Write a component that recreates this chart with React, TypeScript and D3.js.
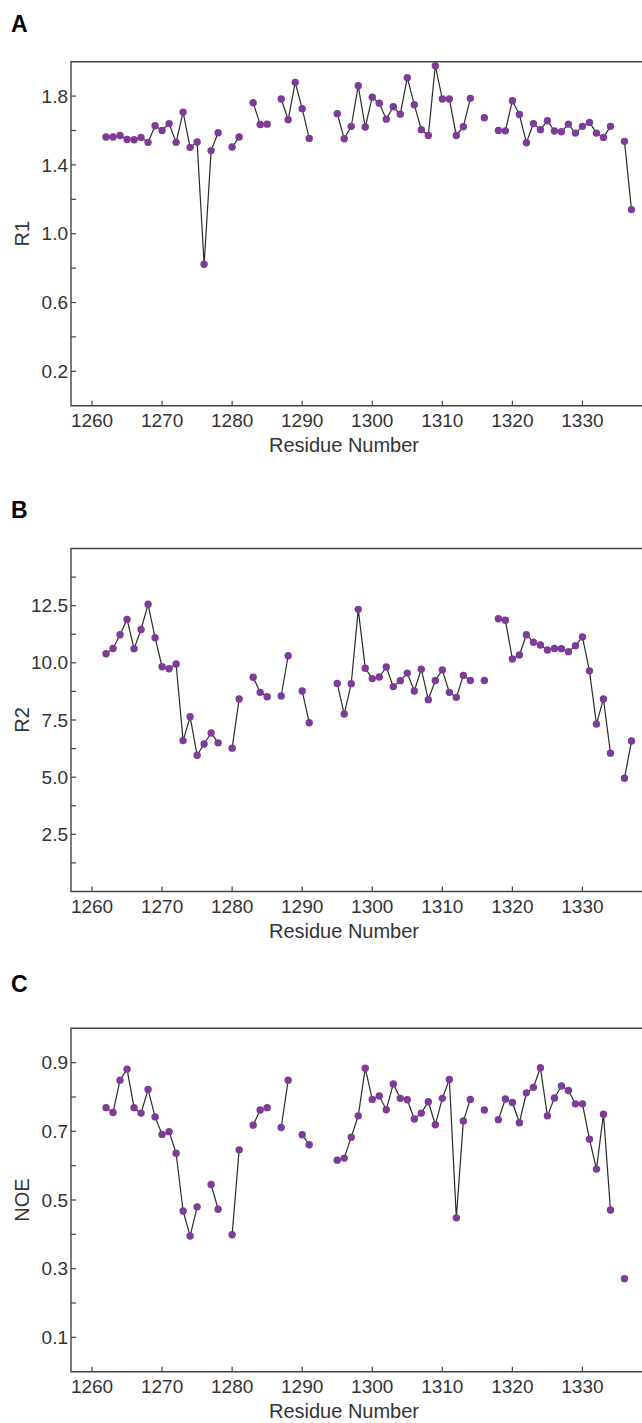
import React from "react"
import * as d3 from "d3"

// residues 1262..1337, null = no data
const residues = d3.range(1262, 1338)

const r1Values: (number | null)[] = [
  1.562, 1.562, 1.571, 1.548, 1.546, 1.56, 1.531, 1.628, 1.6, 1.64,
  1.531, 1.707, 1.502, 1.533, 0.822, 1.483, 1.587, null, 1.504, 1.562,
  null, 1.761, 1.635, 1.637, null, 1.783, 1.663, 1.88, 1.727, 1.554,
  null, null, null, 1.698, 1.552, 1.624, 1.86, 1.62, 1.794, 1.758,
  1.666, 1.738, 1.695, 1.907, 1.75, 1.605, 1.571, 1.977, 1.783, 1.783,
  1.571, 1.622, 1.787, null, 1.674, null, 1.6, 1.598, 1.773, 1.693,
  1.529, 1.64, 1.605, 1.657, 1.597, 1.593, 1.637, 1.585, 1.624, 1.647,
  1.585, 1.56, 1.624, null, 1.537, 1.14,
]

const r2Values: (number | null)[] = [
  10.4, 10.63, 11.23, 11.9, 10.62, 11.46, 12.56, 11.1, 9.83, 9.74,
  9.95, 6.6, 7.64, 5.96, 6.45, 6.93, 6.5, null, 6.27, 8.42,
  null, 9.37, 8.71, 8.52, null, 8.55, 10.31, null, 8.77, 7.38,
  null, null, null, 9.1, 7.76, 9.09, 12.34, 9.76, 9.31, 9.38,
  9.82, 8.96, 9.22, 9.55, 8.77, 9.72, 8.39, 9.23, 9.69, 8.71,
  8.49, 9.45, 9.23, null, 9.23, null, 11.93, 11.86, 10.17, 10.34,
  11.23, 10.9, 10.78, 10.56, 10.63, 10.62, 10.49, 10.75, 11.13, 9.65,
  7.32, 8.42, 6.05, null, 4.95, 6.58,
]

const noeValues: (number | null)[] = [
  0.769, 0.755, 0.849, 0.881, 0.769, 0.753, 0.822, 0.742, 0.691, 0.699,
  0.636, 0.468, 0.395, 0.48, null, 0.545, 0.473, null, 0.399, 0.646,
  null, 0.718, 0.762, 0.769, null, 0.711, 0.849, null, 0.69, 0.661,
  null, null, null, 0.616, 0.622, 0.683, 0.745, 0.884, 0.793, 0.803,
  0.763, 0.838, 0.796, 0.792, 0.736, 0.753, 0.786, 0.719, 0.796, 0.851,
  0.448, 0.73, 0.793, null, 0.762, null, 0.734, 0.794, 0.784, 0.725,
  0.812, 0.828, 0.885, 0.745, 0.797, 0.832, 0.819, 0.78, 0.78, 0.677,
  0.59, 0.75, 0.471, null, 0.271, null,
]

const xTicks = [1260, 1270, 1280, 1290, 1300, 1310, 1320, 1330]

const r1Ticks = [0.2, 0.4, 0.6, 0.8, 1.0, 1.2, 1.4, 1.6, 1.8]
const r1Labels = ["0.2", "", "0.6", "", "1.0", "", "1.4", "", "1.8"]
const r2Ticks = [1.25, 2.5, 3.75, 5, 6.25, 7.5, 8.75, 10, 11.25, 12.5, 13.75]
const r2Labels = ["", "2.5", "", "5.0", "", "7.5", "", "10.0", "", "12.5", ""]
const noeTicks = [0.1, 0.2, 0.3, 0.4, 0.5, 0.6, 0.7, 0.8, 0.9]
const noeLabels = ["0.1", "", "0.3", "", "0.5", "", "0.7", "", "0.9"]

const FONT = "'Liberation Sans', Arial, Helvetica, sans-serif"
const PURPLE = "#7e3c98"
const LEFT = 71
const RIGHT = 642

const x = d3.scaleLinear().domain([1257, 1338.5]).range([LEFT, RIGHT])

interface PanelProps {
  letter: string
  letterY: number
  top: number
  bottom: number
  domain: [number, number]
  values: (number | null)[]
  ticks: number[]
  labels: string[]
  yTitle: string
}

const Panel: React.FC<PanelProps> = ({ letter, letterY, top, bottom, domain, values, ticks, labels, yTitle }) => {
  const y = d3.scaleLinear().domain(domain).range([bottom, top])
  const pts = residues.map((r, i) => ({ r, v: values[i] }))
  const line = d3
    .line<{ r: number; v: number | null }>()
    .defined((d) => d.v != null)
    .x((d) => x(d.r))
    .y((d) => y(d.v as number))

  return (
    <g>
      <text x={11} y={letterY} fontFamily={FONT} fontWeight="bold" fontSize={23} fill="#000">
        {letter}
      </text>
      {/* frame */}
      <path
        d={`M${RIGHT},${top}H${LEFT}V${bottom}H${RIGHT}`}
        fill="none"
        stroke="#444"
        strokeWidth={1.4}
      />
      {/* y ticks */}
      {ticks.map((t, i) => (
        <g key={t}>
          <line x1={LEFT} x2={LEFT + 5} y1={y(t)} y2={y(t)} stroke="#444" strokeWidth={1.2} />
          {labels[i] && (
            <text
              x={LEFT - 3}
              y={y(t)}
              dy="0.35em"
              textAnchor="end"
              fontFamily={FONT}
              fontSize={19}
              fill="#333"
            >
              {labels[i]}
            </text>
          )}
        </g>
      ))}
      {/* x ticks */}
      {xTicks.map((t) => (
        <g key={t}>
          <line x1={x(t)} x2={x(t)} y1={bottom} y2={bottom - 5} stroke="#444" strokeWidth={1.2} />
          <text x={x(t)} y={bottom + 21} textAnchor="middle" fontFamily={FONT} fontSize={19} fill="#333">
            {t}
          </text>
        </g>
      ))}
      <text x={344} y={bottom + 46} textAnchor="middle" fontFamily={FONT} fontSize={20} fill="#333">
        Residue Number
      </text>
      <text
        transform={`translate(29,${(top + bottom) / 2}) rotate(-90)`}
        textAnchor="middle"
        fontFamily={FONT}
        fontSize={20}
        fill="#333"
      >
        {yTitle}
      </text>
      <path d={line(pts) ?? ""} fill="none" stroke="#2b2b2b" strokeWidth={1.2} />
      {pts
        .filter((d) => d.v != null)
        .map((d) => (
          <circle key={d.r} cx={x(d.r)} cy={y(d.v as number)} r={3.7} fill={PURPLE} />
        ))}
    </g>
  )
}

export default function App() {
  return (
    <svg
      width={642}
      height={1423}
      style={{ position: "absolute", left: 0, top: 0, background: "#fff" }}
    >
      <rect width={642} height={1423} fill="#fff" />
      <Panel
        letter="A"
        letterY={31.5}
        top={61.7}
        bottom={405.7}
        domain={[0, 2]}
        values={r1Values}
        ticks={r1Ticks}
        labels={r1Labels}
        yTitle="R1"
      />
      <Panel
        letter="B"
        letterY={518}
        top={548.5}
        bottom={891.5}
        domain={[0, 15]}
        values={r2Values}
        ticks={r2Ticks}
        labels={r2Labels}
        yTitle="R2"
      />
      <Panel
        letter="C"
        letterY={991.5}
        top={1028.3}
        bottom={1371.7}
        domain={[0, 1]}
        values={noeValues}
        ticks={noeTicks}
        labels={noeLabels}
        yTitle="NOE"
      />
    </svg>
  )
}
